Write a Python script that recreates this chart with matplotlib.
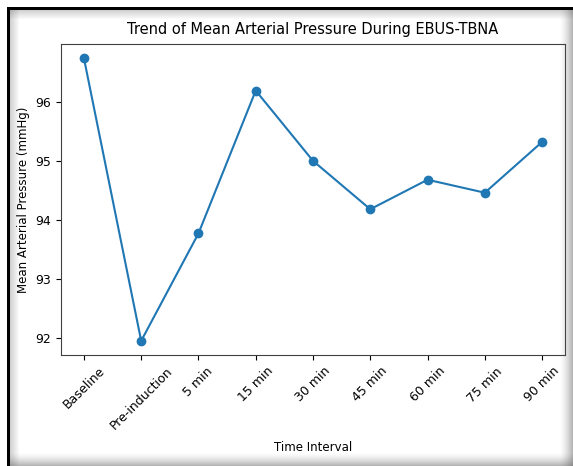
import numpy as np
import matplotlib
matplotlib.use('Agg')
import matplotlib.pyplot as plt
from matplotlib.patches import Rectangle

# Mean arterial pressure at each time point
intervals = ['Baseline', 'Pre-induction', '5 min', '15 min', '30 min',
             '45 min', '60 min', '75 min', '90 min']
map_values = [96.74, 91.95, 93.77, 96.19, 95.00, 94.18, 94.68, 94.46, 95.32]

W, H = 573, 466
fig = plt.figure(figsize=(W / 100, H / 100), dpi=100)


def px_rect(x, y, w, h, color, alpha=1.0):
    # rectangle in pixel units measured from the top-left corner
    fig.patches.append(Rectangle((x / W, 1 - (y + h) / H), w / W, h / H,
                                 transform=fig.transFigure, color=color,
                                 alpha=alpha, lw=0, zorder=0))


# framed border with a soft inner shadow
px_rect(7, 7, W - 7, 3, 'black')
px_rect(7, 7, 3, H - 7, 'black')
for i in range(9):
    a = 0.3 * (1 - i / 9)
    px_rect(10 + i, 10, 1, H - 10, '0.4', a)
    px_rect(10, 10 + i, W - 10, 1, '0.4', a)
for i in range(14):
    a = 0.5 * (i / 14) ** 1.5
    px_rect(W - 14 + i, 10, 1, H - 10, '0.35', a)
    px_rect(10, H - 14 + i, W - 10, 1, '0.35', a)

ax = fig.add_axes([61 / W, (H - 355) / H, (565 - 61) / W, (355 - 44) / H])
ax.plot(intervals, map_values, marker='o', color='#1f77b4', lw=1.5, ms=6)

ax.set_title('Trend of Mean Arterial Pressure During EBUS-TBNA',
             fontsize=10.5, pad=7)
ax.set_xlabel('Time Interval', fontsize=8.5, labelpad=6)
ax.set_ylabel('Mean Arterial Pressure (mmHg)', fontsize=8.5)
ax.set_yticks([92, 93, 94, 95, 96])
ax.tick_params(labelsize=9)
for sp in ax.spines.values():
    sp.set_color('0.25')
plt.setp(ax.get_xticklabels(), rotation=45)

fig.savefig('out.png', dpi=100)
